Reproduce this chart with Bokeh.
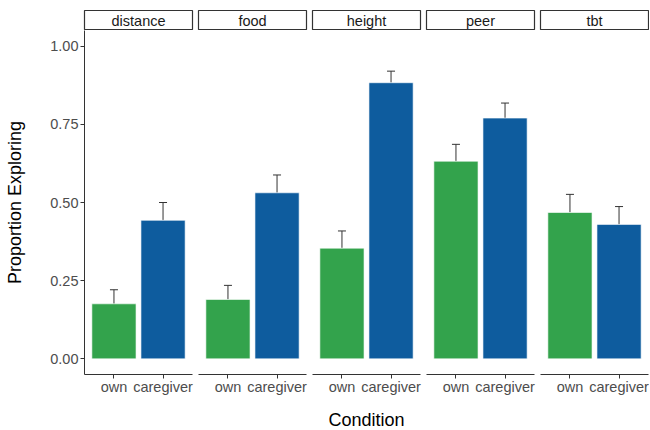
from bokeh.plotting import figure
from bokeh.models import (ColumnDataSource, FactorRange, Range1d, FixedTicker,
                          NumeralTickFormatter, Whisker, TeeHead)
from bokeh.layouts import row, column
from bokeh.embed import file_html
from bokeh.resources import INLINE
from bokeh.core.properties import value

# ---- data ----
tasks = ["distance", "food", "height", "peer", "tbt"]
conditions = ["own", "caregiver"]
own_mean = [0.176, 0.190, 0.354, 0.632, 0.468]
own_upper = [0.221, 0.235, 0.409, 0.686, 0.526]
care_mean = [0.443, 0.531, 0.883, 0.770, 0.430]
care_upper = [0.500, 0.588, 0.920, 0.818, 0.487]
y_ticks = [0.0, 0.25, 0.5, 0.75, 1.0]

colors = {"own": "#33A34C", "caregiver": "#0E5C9E"}
FONT = "Liberation Sans"
PANEL_W = 108
PANEL_H = 344
LEFT = 84
GAP = 3

strips = []
panels = []
n = len(tasks)
for i, task in enumerate(tasks):
    first = i == 0
    last = i == n - 1
    bl = LEFT if first else GAP
    br = 1 if last else GAP
    # strip
    s = figure(frame_width=PANEL_W, frame_height=20, output_backend="svg",
               toolbar_location=None, x_axis_location=None, y_axis_location=None,
               x_range=FactorRange(factors=[task]), y_range=Range1d(0, 1),
               min_border_left=bl, min_border_right=br, min_border_top=10,
               min_border_bottom=0)
    s.outline_line_color = "#333333"
    s.outline_line_width = 1.2
    s.grid.visible = False
    s.text(x=[task], y=[0.5], text=[task], text_align="center",
           text_baseline="middle", text_font=value(FONT),
           text_font_size="14.5px", text_color="#1A1A1A")
    strips.append(s)

    # panel
    p = figure(frame_width=PANEL_W, frame_height=PANEL_H, output_backend="svg",
               toolbar_location=None,
               x_range=FactorRange(factors=conditions, range_padding=0.1),
               y_range=Range1d(-0.05, 1.05),
               y_axis_location="left" if first else None,
               min_border_left=bl, min_border_right=br, min_border_top=0,
               min_border_bottom=55)
    p.outline_line_color = None
    p.grid.visible = False
    src = ColumnDataSource(dict(
        cond=conditions,
        val=[own_mean[i], care_mean[i]],
        up=[own_upper[i], care_upper[i]],
        color=[colors[c] for c in conditions],
    ))
    p.vbar(x="cond", top="val", bottom=0, width=0.9, source=src,
           fill_color="color", line_color="white", line_width=0.6)
    w = Whisker(base="cond", lower="val", upper="up", source=src,
                dimension="height", line_color="#333333", line_width=1,
                upper_head=TeeHead(size=8, line_color="#333333", line_width=1),
                lower_head=None)
    p.add_layout(w)

    xa = p.xaxis[0]
    xa.axis_line_color = "#333333"
    xa.axis_line_width = 1
    xa.major_tick_line_color = "#333333"
    xa.major_tick_out = 4
    xa.major_tick_in = 0
    xa.minor_tick_line_color = None
    xa.major_label_text_font = FONT
    xa.major_label_text_font_size = "14.5px"
    xa.major_label_text_color = "#4D4D4D"
    xa.major_label_standoff = 0
    if i == 2:
        xa.axis_label = "Condition"
        xa.axis_label_text_font = FONT
        xa.axis_label_text_font_size = "18px"
        xa.axis_label_text_font_style = "normal"
        xa.axis_label_text_color = "#000000"
        xa.axis_label_standoff = 12
    if first:
        ya = p.yaxis[0]
        ya.ticker = FixedTicker(ticks=y_ticks)
        ya.formatter = NumeralTickFormatter(format="0.00")
        ya.axis_line_color = "#333333"
        ya.major_tick_line_color = "#333333"
        ya.major_tick_out = 4
        ya.major_tick_in = 0
        ya.minor_tick_line_color = None
        ya.major_label_text_font = FONT
        ya.major_label_text_font_size = "14.5px"
        ya.major_label_text_color = "#4D4D4D"
        ya.major_label_standoff = 2
        ya.axis_label = "Proportion Exploring"
        ya.axis_label_text_font = FONT
        ya.axis_label_text_font_size = "18px"
        ya.axis_label_text_font_style = "normal"
        ya.axis_label_text_color = "#000000"
        ya.axis_label_standoff = 22
    panels.append(p)

layout = column(row(*strips), row(*panels))
open("out.html", "w").write(file_html(layout, INLINE))
